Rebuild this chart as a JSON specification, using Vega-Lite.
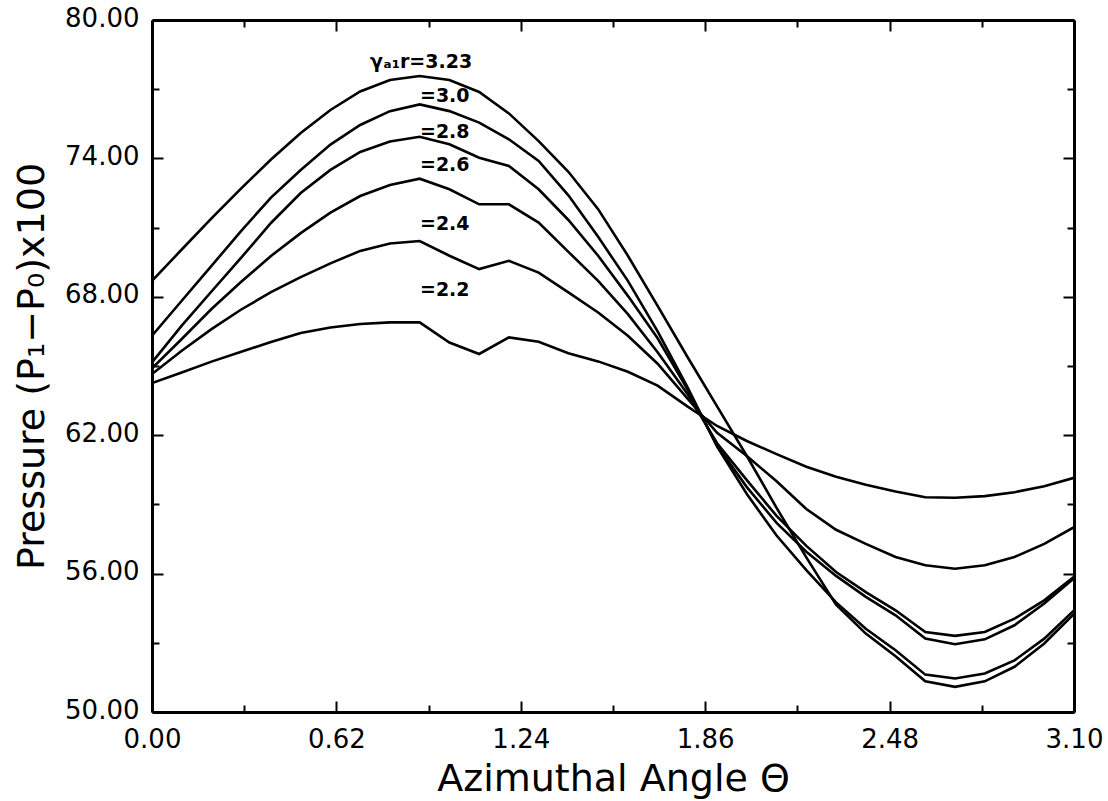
{
  "$schema": "https://vega.github.io/schema/vega-lite/v6.json",
  "width": 922,
  "height": 692,
  "autosize": {"type": "none"},
  "padding": {"left": 152, "top": 20, "right": 34, "bottom": 89},
  "background": "white",
  "config": {
    "view": {"stroke": null},
    "axis": {
      "grid": false,
      "domainColor": "black",
      "domainWidth": 3,
      "tickColor": "black",
      "tickWidth": 2,
      "labelColor": "black",
      "labelFont": "DejaVu Sans",
      "labelFontSize": 26,
      "titleColor": "black",
      "titleFont": "DejaVu Sans",
      "titleFontSize": 38,
      "titleFontWeight": "normal",
      "labelFlush": false,
      "labelOverlap": false
    }
  },
  "datasets": {
    "curves": [
      {"g": "3.23", "theta": 0.0, "p": 68.69}, {"g": "3.23", "theta": 0.1, "p": 70.05}, {"g": "3.23", "theta": 0.2, "p": 71.4}, {"g": "3.23", "theta": 0.3, "p": 72.7},
      {"g": "3.23", "theta": 0.4, "p": 73.95}, {"g": "3.23", "theta": 0.5, "p": 75.1}, {"g": "3.23", "theta": 0.6, "p": 76.1}, {"g": "3.23", "theta": 0.7, "p": 76.9},
      {"g": "3.23", "theta": 0.8, "p": 77.4}, {"g": "3.23", "theta": 0.9, "p": 77.57}, {"g": "3.23", "theta": 1.0, "p": 77.4}, {"g": "3.23", "theta": 1.1, "p": 76.88},
      {"g": "3.23", "theta": 1.2, "p": 75.95}, {"g": "3.23", "theta": 1.3, "p": 74.75}, {"g": "3.23", "theta": 1.4, "p": 73.42}, {"g": "3.23", "theta": 1.5, "p": 71.8},
      {"g": "3.23", "theta": 1.6, "p": 69.78}, {"g": "3.23", "theta": 1.7, "p": 67.61}, {"g": "3.23", "theta": 1.8, "p": 65.4}, {"g": "3.23", "theta": 1.9, "p": 63.25},
      {"g": "3.23", "theta": 2.0, "p": 61.1}, {"g": "3.23", "theta": 2.1, "p": 58.85}, {"g": "3.23", "theta": 2.2, "p": 56.7}, {"g": "3.23", "theta": 2.3, "p": 54.65},
      {"g": "3.23", "theta": 2.4, "p": 53.4}, {"g": "3.23", "theta": 2.5, "p": 52.42}, {"g": "3.23", "theta": 2.6, "p": 51.33}, {"g": "3.23", "theta": 2.7, "p": 51.09},
      {"g": "3.23", "theta": 2.8, "p": 51.33}, {"g": "3.23", "theta": 2.9, "p": 51.96}, {"g": "3.23", "theta": 3.0, "p": 52.97}, {"g": "3.23", "theta": 3.1, "p": 54.25},

      {"g": "3.0", "theta": 0.0, "p": 66.31}, {"g": "3.0", "theta": 0.1, "p": 67.83}, {"g": "3.0", "theta": 0.2, "p": 69.34}, {"g": "3.0", "theta": 0.3, "p": 70.86},
      {"g": "3.0", "theta": 0.4, "p": 72.3}, {"g": "3.0", "theta": 0.5, "p": 73.5}, {"g": "3.0", "theta": 0.6, "p": 74.6}, {"g": "3.0", "theta": 0.7, "p": 75.45},
      {"g": "3.0", "theta": 0.8, "p": 76.05}, {"g": "3.0", "theta": 0.9, "p": 76.34}, {"g": "3.0", "theta": 1.0, "p": 76.05}, {"g": "3.0", "theta": 1.1, "p": 75.55},
      {"g": "3.0", "theta": 1.2, "p": 74.83}, {"g": "3.0", "theta": 1.3, "p": 73.89}, {"g": "3.0", "theta": 1.4, "p": 72.4}, {"g": "3.0", "theta": 1.5, "p": 70.6},
      {"g": "3.0", "theta": 1.6, "p": 68.69}, {"g": "3.0", "theta": 1.7, "p": 66.5}, {"g": "3.0", "theta": 1.8, "p": 64.1}, {"g": "3.0", "theta": 1.9, "p": 61.5},
      {"g": "3.0", "theta": 2.0, "p": 59.45}, {"g": "3.0", "theta": 2.1, "p": 57.65}, {"g": "3.0", "theta": 2.2, "p": 56.15}, {"g": "3.0", "theta": 2.3, "p": 54.75},
      {"g": "3.0", "theta": 2.4, "p": 53.61}, {"g": "3.0", "theta": 2.5, "p": 52.68}, {"g": "3.0", "theta": 2.6, "p": 51.62}, {"g": "3.0", "theta": 2.7, "p": 51.45},
      {"g": "3.0", "theta": 2.8, "p": 51.67}, {"g": "3.0", "theta": 2.9, "p": 52.24}, {"g": "3.0", "theta": 3.0, "p": 53.18}, {"g": "3.0", "theta": 3.1, "p": 54.4},

      {"g": "2.8", "theta": 0.0, "p": 65.16}, {"g": "2.8", "theta": 0.1, "p": 66.75}, {"g": "2.8", "theta": 0.2, "p": 68.23}, {"g": "2.8", "theta": 0.3, "p": 69.7},
      {"g": "2.8", "theta": 0.4, "p": 71.2}, {"g": "2.8", "theta": 0.5, "p": 72.5}, {"g": "2.8", "theta": 0.6, "p": 73.5}, {"g": "2.8", "theta": 0.7, "p": 74.28},
      {"g": "2.8", "theta": 0.8, "p": 74.73}, {"g": "2.8", "theta": 0.9, "p": 74.94}, {"g": "2.8", "theta": 1.0, "p": 74.61}, {"g": "2.8", "theta": 1.1, "p": 74.03},
      {"g": "2.8", "theta": 1.2, "p": 73.67}, {"g": "2.8", "theta": 1.3, "p": 72.66}, {"g": "2.8", "theta": 1.4, "p": 71.33}, {"g": "2.8", "theta": 1.5, "p": 69.78},
      {"g": "2.8", "theta": 1.6, "p": 68.04}, {"g": "2.8", "theta": 1.7, "p": 66.2}, {"g": "2.8", "theta": 1.8, "p": 64.0}, {"g": "2.8", "theta": 1.9, "p": 61.55},
      {"g": "2.8", "theta": 2.0, "p": 59.75}, {"g": "2.8", "theta": 2.1, "p": 58.2}, {"g": "2.8", "theta": 2.2, "p": 56.95}, {"g": "2.8", "theta": 2.3, "p": 55.9},
      {"g": "2.8", "theta": 2.4, "p": 54.99}, {"g": "2.8", "theta": 2.5, "p": 54.19}, {"g": "2.8", "theta": 2.6, "p": 53.18}, {"g": "2.8", "theta": 2.7, "p": 52.94},
      {"g": "2.8", "theta": 2.8, "p": 53.15}, {"g": "2.8", "theta": 2.9, "p": 53.76}, {"g": "2.8", "theta": 3.0, "p": 54.7}, {"g": "2.8", "theta": 3.1, "p": 55.8},

      {"g": "2.6", "theta": 0.0, "p": 64.9}, {"g": "2.6", "theta": 0.1, "p": 66.17}, {"g": "2.6", "theta": 0.2, "p": 67.47}, {"g": "2.6", "theta": 0.3, "p": 68.65},
      {"g": "2.6", "theta": 0.4, "p": 69.77}, {"g": "2.6", "theta": 0.5, "p": 70.76}, {"g": "2.6", "theta": 0.6, "p": 71.65}, {"g": "2.6", "theta": 0.7, "p": 72.37},
      {"g": "2.6", "theta": 0.8, "p": 72.85}, {"g": "2.6", "theta": 0.9, "p": 73.12}, {"g": "2.6", "theta": 1.0, "p": 72.66}, {"g": "2.6", "theta": 1.1, "p": 72.01},
      {"g": "2.6", "theta": 1.2, "p": 72.01}, {"g": "2.6", "theta": 1.3, "p": 71.22}, {"g": "2.6", "theta": 1.4, "p": 69.95}, {"g": "2.6", "theta": 1.5, "p": 68.69},
      {"g": "2.6", "theta": 1.6, "p": 67.25}, {"g": "2.6", "theta": 1.7, "p": 65.6}, {"g": "2.6", "theta": 1.8, "p": 63.8}, {"g": "2.6", "theta": 1.9, "p": 61.65},
      {"g": "2.6", "theta": 2.0, "p": 60.05}, {"g": "2.6", "theta": 2.1, "p": 58.5}, {"g": "2.6", "theta": 2.2, "p": 57.2}, {"g": "2.6", "theta": 2.3, "p": 56.07},
      {"g": "2.6", "theta": 2.4, "p": 55.2}, {"g": "2.6", "theta": 2.5, "p": 54.41}, {"g": "2.6", "theta": 2.6, "p": 53.47}, {"g": "2.6", "theta": 2.7, "p": 53.3},
      {"g": "2.6", "theta": 2.8, "p": 53.47}, {"g": "2.6", "theta": 2.9, "p": 54.05}, {"g": "2.6", "theta": 3.0, "p": 54.84}, {"g": "2.6", "theta": 3.1, "p": 55.86},

      {"g": "2.4", "theta": 0.0, "p": 64.65}, {"g": "2.4", "theta": 0.1, "p": 65.66}, {"g": "2.4", "theta": 0.2, "p": 66.6}, {"g": "2.4", "theta": 0.3, "p": 67.45},
      {"g": "2.4", "theta": 0.4, "p": 68.2}, {"g": "2.4", "theta": 0.5, "p": 68.85}, {"g": "2.4", "theta": 0.6, "p": 69.45}, {"g": "2.4", "theta": 0.7, "p": 69.99},
      {"g": "2.4", "theta": 0.8, "p": 70.31}, {"g": "2.4", "theta": 0.9, "p": 70.42}, {"g": "2.4", "theta": 1.0, "p": 69.78}, {"g": "2.4", "theta": 1.1, "p": 69.2},
      {"g": "2.4", "theta": 1.2, "p": 69.56}, {"g": "2.4", "theta": 1.3, "p": 69.05}, {"g": "2.4", "theta": 1.4, "p": 68.19}, {"g": "2.4", "theta": 1.5, "p": 67.32},
      {"g": "2.4", "theta": 1.6, "p": 66.31}, {"g": "2.4", "theta": 1.7, "p": 65.1}, {"g": "2.4", "theta": 1.8, "p": 63.6}, {"g": "2.4", "theta": 1.9, "p": 62.1},
      {"g": "2.4", "theta": 2.0, "p": 61.1}, {"g": "2.4", "theta": 2.1, "p": 60.0}, {"g": "2.4", "theta": 2.2, "p": 58.8}, {"g": "2.4", "theta": 2.3, "p": 57.9},
      {"g": "2.4", "theta": 2.4, "p": 57.29}, {"g": "2.4", "theta": 2.5, "p": 56.72}, {"g": "2.4", "theta": 2.6, "p": 56.36}, {"g": "2.4", "theta": 2.7, "p": 56.21},
      {"g": "2.4", "theta": 2.8, "p": 56.36}, {"g": "2.4", "theta": 2.9, "p": 56.72}, {"g": "2.4", "theta": 3.0, "p": 57.29}, {"g": "2.4", "theta": 3.1, "p": 58.01},

      {"g": "2.2", "theta": 0.0, "p": 64.26}, {"g": "2.2", "theta": 0.1, "p": 64.72}, {"g": "2.2", "theta": 0.2, "p": 65.19}, {"g": "2.2", "theta": 0.3, "p": 65.62},
      {"g": "2.2", "theta": 0.4, "p": 66.04}, {"g": "2.2", "theta": 0.5, "p": 66.43}, {"g": "2.2", "theta": 0.6, "p": 66.67}, {"g": "2.2", "theta": 0.7, "p": 66.82},
      {"g": "2.2", "theta": 0.8, "p": 66.89}, {"g": "2.2", "theta": 0.9, "p": 66.89}, {"g": "2.2", "theta": 1.0, "p": 66.02}, {"g": "2.2", "theta": 1.1, "p": 65.52},
      {"g": "2.2", "theta": 1.2, "p": 66.24}, {"g": "2.2", "theta": 1.3, "p": 66.05}, {"g": "2.2", "theta": 1.4, "p": 65.55}, {"g": "2.2", "theta": 1.5, "p": 65.2},
      {"g": "2.2", "theta": 1.6, "p": 64.75}, {"g": "2.2", "theta": 1.7, "p": 64.15}, {"g": "2.2", "theta": 1.8, "p": 63.25}, {"g": "2.2", "theta": 1.9, "p": 62.4},
      {"g": "2.2", "theta": 2.0, "p": 61.75}, {"g": "2.2", "theta": 2.1, "p": 61.18}, {"g": "2.2", "theta": 2.2, "p": 60.63}, {"g": "2.2", "theta": 2.3, "p": 60.2},
      {"g": "2.2", "theta": 2.4, "p": 59.85}, {"g": "2.2", "theta": 2.5, "p": 59.56}, {"g": "2.2", "theta": 2.6, "p": 59.31}, {"g": "2.2", "theta": 2.7, "p": 59.29},
      {"g": "2.2", "theta": 2.8, "p": 59.36}, {"g": "2.2", "theta": 2.9, "p": 59.53}, {"g": "2.2", "theta": 3.0, "p": 59.79}, {"g": "2.2", "theta": 3.1, "p": 60.15}
    ],
    "labels": [
      {"label": "γₐ₁r=3.23", "theta": 0.733, "p": 78.16},
      {"label": "=3.0", "theta": 0.901, "p": 76.71},
      {"label": "=2.8", "theta": 0.901, "p": 75.15},
      {"label": "=2.6", "theta": 0.901, "p": 73.72},
      {"label": "=2.4", "theta": 0.901, "p": 71.17},
      {"label": "=2.2", "theta": 0.901, "p": 68.31}
    ]
  },
  "layer": [
    {
      "data": {"name": "curves"},
      "mark": {"type": "line", "color": "black", "strokeWidth": 2.6, "clip": true},
      "encoding": {
        "x": {
          "field": "theta", "type": "quantitative",
          "scale": {"domain": [0, 3.1], "nice": false, "zero": false},
          "axis": {
            "orient": "bottom",
            "values": [0, 0.62, 1.24, 1.86, 2.48, 3.1],
            "format": ".2f",
            "tickSize": -11,
            "labelPadding": 25,
            "title": "Azimuthal Angle Θ",
            "titleBaseline": "alphabetic",
            "titleY": 78
          }
        },
        "y": {
          "field": "p", "type": "quantitative",
          "scale": {"domain": [50, 80], "nice": false, "zero": false},
          "axis": {
            "orient": "left",
            "values": [50, 56, 62, 68, 74, 80],
            "format": ".2f",
            "tickSize": -11,
            "labelPadding": 24,
            "labelOffset": -2,
            "title": "Pressure (P₁−P₀)x100",
            "titleBaseline": "alphabetic",
            "titleX": -109
          }
        },
        "detail": {"field": "g", "type": "nominal"}
      }
    },
    {
      "data": {"name": "curves"},
      "mark": {"type": "line", "opacity": 0},
      "encoding": {
        "x": {
          "field": "theta", "type": "quantitative",
          "axis": {"orient": "bottom", "values": [0.31, 0.93, 1.55, 2.17, 2.79], "tickSize": -7, "labels": false, "domain": false, "title": null}
        },
        "y": {
          "field": "p", "type": "quantitative",
          "axis": {"orient": "left", "values": [53, 59, 65, 71, 77], "tickSize": -7, "labels": false, "domain": false, "title": null}
        },
        "detail": {"field": "g", "type": "nominal"}
      }
    },
    {
      "data": {"name": "curves"},
      "mark": {"type": "line", "opacity": 0},
      "encoding": {
        "x": {
          "field": "theta", "type": "quantitative",
          "axis": {"orient": "top", "values": [0, 0.62, 1.24, 1.86, 2.48, 3.1], "tickSize": -11, "labels": false, "title": null}
        },
        "y": {
          "field": "p", "type": "quantitative",
          "axis": {"orient": "right", "values": [50, 56, 62, 68, 74, 80], "tickSize": -11, "labels": false, "title": null}
        },
        "detail": {"field": "g", "type": "nominal"}
      }
    },
    {
      "data": {"name": "curves"},
      "mark": {"type": "line", "opacity": 0},
      "encoding": {
        "x": {
          "field": "theta", "type": "quantitative",
          "axis": {"orient": "top", "values": [0.31, 0.93, 1.55, 2.17, 2.79], "tickSize": -7, "labels": false, "domain": false, "title": null}
        },
        "y": {
          "field": "p", "type": "quantitative",
          "axis": {"orient": "right", "values": [53, 59, 65, 71, 77], "tickSize": -7, "labels": false, "domain": false, "title": null}
        },
        "detail": {"field": "g", "type": "nominal"}
      }
    },
    {
      "data": {"name": "labels"},
      "mark": {"type": "text", "align": "left", "baseline": "middle", "font": "DejaVu Sans", "fontWeight": "bold", "fontSize": 19, "color": "black"},
      "encoding": {
        "x": {"field": "theta", "type": "quantitative", "axis": null},
        "y": {"field": "p", "type": "quantitative", "axis": null},
        "text": {"field": "label", "type": "nominal"}
      }
    }
  ],
  "resolve": {"axis": {"x": "independent", "y": "independent"}}
}
